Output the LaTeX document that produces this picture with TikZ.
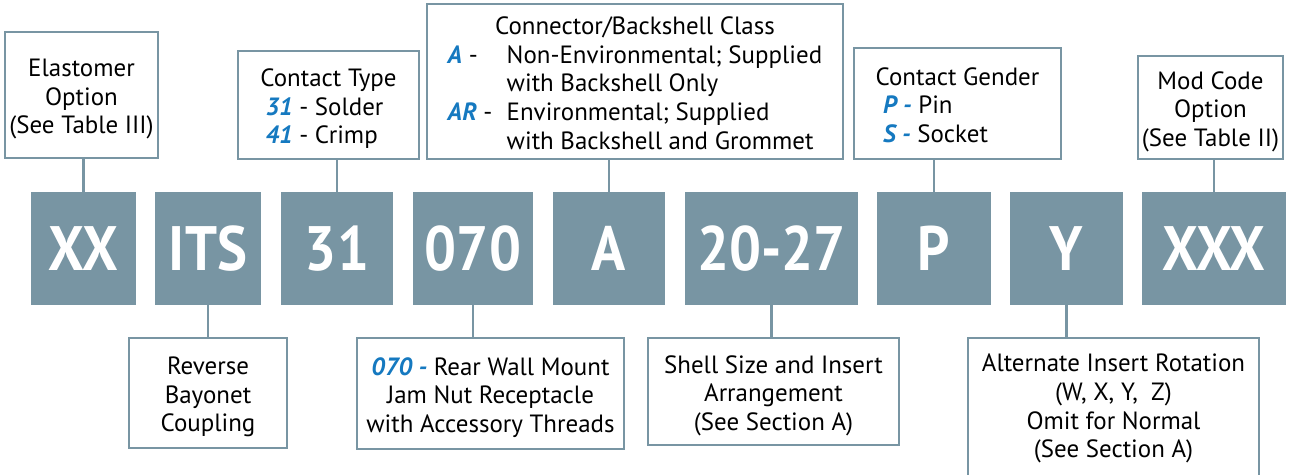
\documentclass[tikz,border=0pt]{standalone}
\usepackage{fontspec}
\setmainfont{PT Sans}
\newfontfamily\codefont[FakeStretch=0.9]{PT Sans}
\usepackage{tikz}
\usetikzlibrary{positioning}
\definecolor{codegray}{HTML}{7895A3}
\definecolor{codeblue}{HTML}{1579C0}
\newcommand{\hl}[1]{{\color{codeblue}\bfseries\itshape #1}}
\newcommand{\notetext}[2][-2.6pt]{\raisebox{#1}[\height][\depth]{%
    \begin{tabular}{@{}c@{}}#2\end{tabular}}}

\begin{document}
\begin{tikzpicture}[x=0.02cm, y=-0.02cm,
        code/.style={rectangle, fill=codegray, text=white, inner sep=0pt,
          minimum height=2.26cm, font=\codefont\bfseries\fontsize{35.7}{36}\selectfont},
        info/.style={rectangle, draw=codegray, line width=1.3pt, fill=white,
          inner sep=0pt, font=\fontsize{14.2}{16.3}\selectfont},
        link/.style={draw=codegray, line width=1.3pt},
      ]
      \useasboundingbox (0,0) rectangle (1292,474);

      % part number fields
      \node[code, minimum width=2.1cm] (xx) at (83.5,248.5) {XX};
      \node[code, minimum width=2.12cm] (its) at (208,248.5) {ITS};
      \node[code, minimum width=2.24cm] (ct) at (337,248.5) {31};
      \node[code, minimum width=2.4cm] (mount) at (473,248.5) {070};
      \node[code, minimum width=2.26cm] (cls) at (609,248.5) {A};
      \node[code, minimum width=3.46cm] (shell) at (771.5,248.5) {20-27};
      \node[code, minimum width=2.28cm] (gender) at (934,248.5) {P};
      \node[code, minimum width=2.26cm] (rot) at (1066.5,248.5) {Y};
      \node[code, minimum width=2.88cm] (mod) at (1214,248.5) {XXX};

      % upper notes
      \node[info, minimum width=3.06cm, minimum height=2.52cm] (elast) at (81.5,95)
        {\notetext{Elastomer\\Option\\(See Table III)}};
      \node[info, minimum width=3.62cm, minimum height=2.16cm] (ctnote) at (328.5,105)
        {\notetext{Contact Type\\
         \begin{tabular}[t]{@{}l@{\hspace{0.16cm}}}
           \hl{31} - Solder\\
           \hl{41} - Crimp
         \end{tabular}}};
      \node[info, minimum width=8.32cm, minimum height=3.1cm] (clsnote) at (635,81.5)
        {\notetext{Connector/Backshell Class\\
         \begin{tabular}[t]{@{}l@{}l@{}}
           \makebox[1.18cm][l]{\hl{A} -} & Non-Environmental; Supplied\\
           & with Backshell Only\\
           \makebox[1.18cm][l]{\hl{AR} -} & Environmental; Supplied\\
           & with Backshell and Grommet
         \end{tabular}}};
      \node[info, minimum width=4.14cm, minimum height=2.22cm] (gnote) at (957.5,103.5)
        {\notetext{Contact Gender\\
         \begin{tabular}[t]{@{}l@{\hspace{0.88cm}}}
           \hl{P -} Pin\\
           \hl{S -} Socket
         \end{tabular}}};
      \node[info, minimum width=2.9cm, minimum height=2.06cm] (modnote) at (1210.5,107.5)
        {\notetext{Mod Code\\Option\\(See Table II)}};

      % lower notes
      \node[info, minimum width=3.16cm, minimum height=2.2cm] (revnote) at (208,393)
        {\notetext{Reverse\\Bayonet\\Coupling}};
      \node[info, minimum width=5.34cm, minimum height=2.22cm] (mountnote) at (490.5,393.5)
        {\notetext{\hl{070 -} Rear Wall Mount\\Jam Nut Receptacle\\with Accessory Threads}};
      \node[info, minimum width=5.02cm, minimum height=2.14cm] (shellnote) at (773.5,391.5)
        {\notetext{Shell Size and Insert\\Arrangement\\(See Section A)}};
      \node[info, minimum width=5.82cm, minimum height=2.84cm] (rotnote) at (1113.5,409)
        {\notetext[0pt]{Alternate Insert Rotation\\(W, X, Y,~~Z)\\Omit for Normal\\(See Section A)}};

      \draw[link] (xx.north) -- (xx.north |- elast.south);
      \draw[link] (ct.north) -- (ct.north |- ctnote.south);
      \draw[link] (cls.north) -- (cls.north |- clsnote.south);
      \draw[link] (gender.north) -- (gender.north |- gnote.south);
      \draw[link] (mod.north) -- (mod.north |- modnote.south);
      \draw[link] (its.south) -- (its.south |- revnote.north);
      \draw[link] (mount.south) -- (mount.south |- mountnote.north);
      \draw[link] (shell.south) -- (shell.south |- shellnote.north);
      \draw[link] (rot.south) -- (rot.south |- rotnote.north);
    \end{tikzpicture}
\end{document}
